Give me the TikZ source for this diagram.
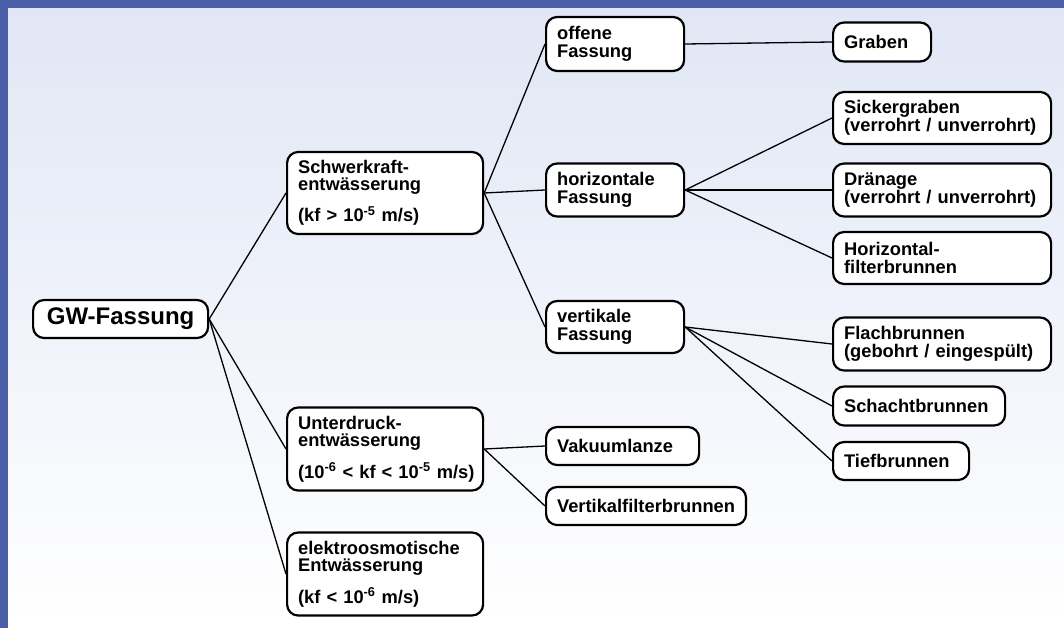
\documentclass[tikz,border=0pt]{standalone}
\usepackage{fontspec}
\setmainfont{Liberation Sans}
\definecolor{framecol}{RGB}{74,94,168}
\definecolor{bgtop}{RGB}{224,230,245}
\begin{document}
\begin{tikzpicture}[x=1pt,y=-1pt,
  box/.style={draw,line width=2.2pt,rounded corners=11pt,fill=white,anchor=west,align=left,inner xsep=11pt,inner ysep=0pt,font=\fontsize{18.3}{17.5}\selectfont\bfseries},
  link/.style={line width=1.3pt}]
\useasboundingbox (0,0) rectangle (1064,628);
\shade[top color=bgtop,bottom color=white] (0,0) rectangle (1064,628);
\fill[framecol] (0,0) rectangle (8,628);
\fill[framecol] (0,0) rectangle (1064,8);
\node[box,minimum width=175,minimum height=38,align=center,font=\fontsize{24}{24}\selectfont\bfseries] (gw) at (32,319) {GW-Fassung};
\node[box,text width=174,minimum height=82] (schwer) at (286,193) {Schwerkraft-\\entwässerung\\[11pt](kf~>~10\textsuperscript{-5}~m/s)};
\node[box,text width=174,minimum height=83] (unter) at (286,449) {Unterdruck-\\entwässerung\\[11pt]\mbox{(10\textsuperscript{-6}~<~kf~<~10\textsuperscript{-5}~m/s)}};
\node[box,text width=174,minimum height=83] (elektro) at (286,574) {elektroosmotische\\Entwässerung\\[11pt](kf~<~10\textsuperscript{-6}~m/s)};
\node[box,text width=116,minimum height=54] (offen) at (545,44) {offene\\Fassung};
\node[box,text width=116,minimum height=53] (horiz) at (545,190) {horizontale\\Fassung};
\node[box,text width=116,minimum height=52] (vert) at (545,327) {vertikale\\Fassung};
\node[box,text width=131,minimum height=38] (vakuum) at (545,446) {Vakuumlanze};
\node[box,minimum height=38] (vfilter) at (545,506) {Vertikalfilterbrunnen};
\node[box,text width=76,minimum height=39] (graben) at (832,42) {Graben};
\node[box,text width=196,minimum height=52] (sicker) at (832,118) {Sickergraben\\(verrohrt / unverrohrt)};
\node[box,text width=196,minimum height=53] (draen) at (832,190) {Dränage\\(verrohrt / unverrohrt)};
\node[box,text width=196,minimum height=52] (hfilter) at (832,258) {Horizontal-\\filterbrunnen};
\node[box,text width=196,minimum height=53] (flach) at (832,344) {Flachbrunnen\\(gebohrt / eingespült)};
\node[box,text width=150,minimum height=39] (schacht) at (832,406) {Schachtbrunnen};
\node[box,text width=114,minimum height=38] (tief) at (832,461) {Tiefbrunnen};
\draw[link] (gw.east) -- (schwer.west);
\draw[link] (gw.east) -- (unter.west);
\draw[link] (gw.east) -- (elektro.west);
\draw[link] (schwer.east) -- (offen.west);
\draw[link] (schwer.east) -- (horiz.west);
\draw[link] (schwer.east) -- (vert.west);
\draw[link] (unter.east) -- (vakuum.west);
\draw[link] (unter.east) -- (vfilter.west);
\draw[link] (offen.east) -- (graben.west);
\draw[link] (horiz.east) -- (sicker.west);
\draw[link] (horiz.east) -- (draen.west);
\draw[link] (horiz.east) -- (hfilter.west);
\draw[link] (vert.east) -- (flach.west);
\draw[link] (vert.east) -- (schacht.west);
\draw[link] (vert.east) -- (tief.west);
\end{tikzpicture}
\end{document}
